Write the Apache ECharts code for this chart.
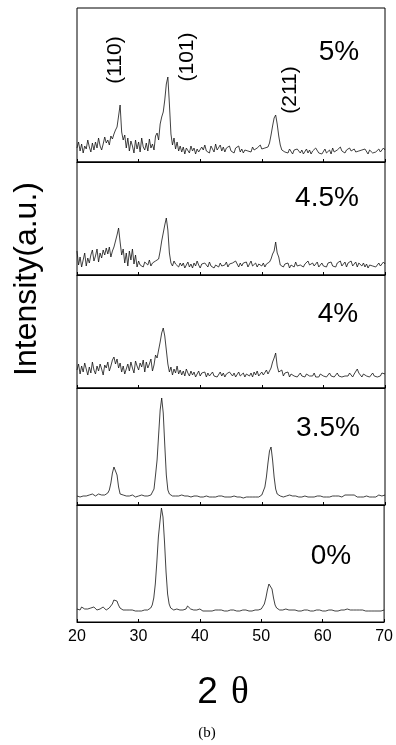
<!DOCTYPE html>
<html><head><meta charset="utf-8">
<script src="https://cdn.jsdelivr.net/npm/echarts@6/dist/echarts.min.js"></script>
<style>html,body{margin:0;padding:0;background:#fff}#c{width:396px;height:745px}</style>
</head><body><div id="c"></div>
<script>
// 2-theta sampling angles (degrees)
const twoTheta = [20,20.25,20.5,20.75,21,21.25,21.5,21.75,22,22.25,22.5,22.75,23,23.25,23.5,23.75,24,24.25,24.5,24.75,
25,25.25,25.5,25.75,26,26.25,26.5,26.75,27,27.25,27.5,27.75,28,28.25,28.5,28.75,29,29.25,29.5,29.75,
30,30.25,30.5,30.75,31,31.25,31.5,31.75,32,32.25,32.5,32.75,33,33.25,33.5,33.75,34,34.25,34.5,34.75,
35,35.25,35.5,35.75,36,36.25,36.5,36.75,37,37.25,37.5,37.75,38,38.25,38.5,38.75,39,39.25,39.5,39.75,
40,40.25,40.5,40.75,41,41.25,41.5,41.75,42,42.25,42.5,42.75,43,43.25,43.5,43.75,44,44.25,44.5,44.75,
45,45.25,45.5,45.75,46,46.25,46.5,46.75,47,47.25,47.5,47.75,48,48.25,48.5,48.75,49,49.25,49.5,49.75,
50,50.25,50.5,50.75,51,51.25,51.5,51.75,52,52.25,52.5,52.75,53,53.25,53.5,53.75,54,54.25,54.5,54.75,
55,55.25,55.5,55.75,56,56.25,56.5,56.75,57,57.25,57.5,57.75,58,58.25,58.5,58.75,59,59.25,59.5,59.75,
60,60.25,60.5,60.75,61,61.25,61.5,61.75,62,62.25,62.5,62.75,63,63.25,63.5,63.75,64,64.25,64.5,64.75,
65,65.25,65.5,65.75,66,66.25,66.5,66.75,67,67.25,67.5,67.75,68,68.25,68.5,68.75,69,69.25,69.5,69.75,70];

const int5 = [14,20,11,18, 9,16,13,22, 15,10,19,12, 20,14,24,16, 12,18,25,19,
22,17,26,23, 28,32,35,37, 57,30,22,27, 14,24,11,21, 16,9,22,13,
20,10,24,15, 12,19,11,23, 14,18,12,26, 29,22,38,45, 50,62,78,85,
58,28,17,24, 13,20,11,16, 10,15,8,14, 12,9,16,11, 14,8,13,10,
9,15,12,17, 11,13,9,16, 14,10,18,12, 13,17,11,15, 10,14,12,16,
11,13,9,14, 12,16,10,13, 9,12,14,11, 13,10,15,12, 11,14,12,17,
13,11,14,16, 15,19,27,36, 44,47,38,26, 17,12,14,10, 12,9,13,11,
8,12,10,13, 11,9,12,8, 10,13,9,12, 8,11,10,14, 12,9,11,8,
10,13,9,11, 12,8,14,10, 9,12,10,15, 11,13,9,12, 10,14,11,9,
13,10,12,11, 9,12,10,13, 11,8,12,10, 9,11,10,12, 13,10,9,14, 12];

const int45 = [24,10,18,8, 15,22,9,17, 12,20,25,14, 19,26,13,22, 17,25,20,27,
21,28,18,24, 28,34,40,47, 33,20,26,12, 22,9,24,15, 26,11,20,8,
14,10,12,8, 13,11,10,15, 9,12,10,14, 12,16,24,34, 42,50,57,45,
22,12,9,14, 11,13,8,12, 9,12,7,10, 13,8,11,7, 12,9,14,10,
7,11,9,12, 10,8,13,9, 11,7,10,12, 8,12,9,11, 10,13,8,11,
9,12,10,14, 11,8,12,9, 12,10,13,8, 10,14,9,11, 12,8,11,10,
9,12,8,11, 10,13,16,21, 24,33,22,18, 10,12,8,11, 9,12,7,10,
11,8,13,9, 7,10,12,8, 11,9,14,10, 8,12,9,11, 13,8,10,12,
9,11,8,12, 10,13,9,11, 8,12,10,14, 9,11,13,8, 12,10,14,9,
11,13,8,12, 10,9,12,8, 11,7,10,12, 9,11,8,10, 12,9,11,13, 11];

const int4 = [18,24,14,22, 16,25,19,13, 21,15,26,18, 14,22,17,24, 19,13,23,20,
26,17,22,28, 31,24,29,20, 25,16,22,14, 19,24,17,26, 20,15,27,22,
18,25,21,28, 16,26,20,24, 29,17,23,33, 30,38,46,55, 60,52,38,24,
16,21,13,19, 15,22,14,18, 13,17,12,19, 15,12,17,13, 16,11,14,17,
12,15,13,16, 11,15,12,14, 16,12,14,11, 13,16,12,15, 11,14,13,16,
14,12,15,11, 13,16,12,14, 15,11,14,13, 12,15,11,16, 13,17,12,14,
16,13,15,18, 14,17,20,26, 30,35,22,16, 14,18,12,15, 13,16,11,14,
15,12,14,11, 13,15,12,14, 11,14,13,12, 14,12,15,11, 13,11,14,12,
12,14,11,13, 15,12,13,11, 13,15,12,14, 11,13,12,14, 12,15,13,11,
14,16,19,15, 13,11,14,12, 12,14,11,13, 15,12,14,11, 13,12,15,13, 14];

const int35 = [9,10,8,10, 9,11,9,10, 10,9,11,10, 9,10,11,9, 10,11,10,12,
12,15,22,32, 38,40,30,18, 11,9,10,8, 9,10,9,8, 10,9,8,10,
9,8,10,9, 9,10,9,11, 10,12,16,30, 45,70,95,107, 92,60,30,15,
11,10,9,10, 9,10,9,9, 10,9,9,8, 9,10,8,9, 9,8,9,9,
8,9,8,9, 9,8,8,9, 8,9,8,8, 9,8,9,8, 8,9,8,7,
8,8,9,8, 8,7,8,8, 7,8,8,7, 8,7,8,9, 8,9,8,9,
10,12,18,28, 42,54,58,45, 28,16,11,9, 9,10,8,9, 9,8,10,9,
9,8,9,8, 8,9,8,9, 9,8,8,9, 8,9,8,8, 9,8,9,8,
8,9,8,8, 8,9,9,8, 9,8,9,9, 8,9,10,9, 10,11,10,9,
10,9,8,9, 8,9,8,8, 9,8,8,9, 8,9,8,9, 10,9,9,11, 10];

const int0 = [13,14,12,15, 14,13,15,13, 12,14,13,15, 13,12,14,13, 14,15,13,12,
13,14,16,18, 22,24,21,17, 14,13,12,13, 12,13,12,11, 12,12,11,12,
11,12,11,12, 12,11,12,13, 14,17,24,38, 60,85,100,114, 105,80,50,28,
18,14,13,12, 12,13,11,12, 13,12,14,13, 16,14,13,12, 12,13,12,11,
13,12,11,12, 11,12,11,12, 11,12,12,11, 12,11,12,12, 11,12,11,12,
12,11,12,11, 11,12,11,12, 12,11,12,11, 11,12,11,12, 12,11,12,12,
13,15,18,24, 32,38,40,33, 24,17,14,13, 12,13,12,12, 13,11,12,11,
12,11,12,11, 11,12,11,12, 12,11,12,11, 11,12,11,12, 12,11,12,11,
11,12,11,12, 12,11,12,11, 11,12,11,12, 12,11,12,12, 13,12,12,11,
12,13,12,11, 12,11,12,11, 11,12,11,12, 11,12,11,12, 11,12,11,12, 12];

const sampleLabels = ['5%','4.5%','4%','3.5%','0%'];
const xTicks = [20,30,40,50,60,70];
const peakLabels = ['(110)','(101)','(211)'];

const seriesValues = [int5,int45,int4,int35,int0];
const panelTops = [8,162,275,388,505];
const panelHeights = [154,113,113,117,117];
const L = 77, R = 11;

const chart = echarts.init(document.getElementById('c'), null, {renderer:'canvas'});
const grids=[], xAxes=[], yAxes=[], series=[];
seriesValues.forEach((vals,i)=>{
  grids.push({left:L, right:R, top:panelTops[i], height:panelHeights[i], show:true, borderColor:'#000', borderWidth:1, backgroundColor:'transparent'});
  xAxes.push({type:'value', gridIndex:i, min:xTicks[0], max:xTicks[xTicks.length-1], interval:10,
    axisLine:{show:true, lineStyle:{color:'#000', width:1}},
    axisTick:{show:true, inside:true, length:3, lineStyle:{color:'#000'}},
    minorTick:{show:false},
    axisLabel:{show:i===4, color:'#000', fontSize:16, fontFamily:'Liberation Sans, Arial, sans-serif', margin:7},
    splitLine:{show:false}});
  yAxes.push({type:'value', gridIndex:i, min:0, max:panelHeights[i], show:false, splitLine:{show:false}});
  series.push({type:'line', xAxisIndex:i, yAxisIndex:i, showSymbol:false, symbol:'none', silent:true,
    lineStyle:{color:'#111', width:0.8}, data: twoTheta.map((t,j)=>[t, vals[j]])});
});

const sansF = 'Liberation Sans, Arial, sans-serif';
const graphic = [];
const labelPos = [[339,52],[327,198],[338,314],[328,428],[331,556]];
sampleLabels.forEach((s,i)=>{
  graphic.push({type:'text', x:labelPos[i][0], y:labelPos[i][1], style:{text:s, fill:'#000', font:'28px '+sansF, textAlign:'center', textVerticalAlign:'middle'}});
});
const peakPos = [[115,60],[187,57],[290,90]];
peakLabels.forEach((s,i)=>{
  graphic.push({type:'text', x:peakPos[i][0], y:peakPos[i][1], rotation:Math.PI/2, style:{text:s, fill:'#000', font:'21px '+sansF, textAlign:'center', textVerticalAlign:'middle'}});
});
graphic.push({type:'text', x:27, y:279, rotation:Math.PI/2, style:{text:'Intensity(a.u.)', fill:'#000', font:'32px '+sansF, textAlign:'center', textVerticalAlign:'middle'}});
graphic.push({type:'text', x:223, y:693, style:{text:'{a|2}{b|θ}', fill:'#000', textAlign:'center', textVerticalAlign:'middle',
  rich:{a:{font:'37px '+sansF, fill:'#000', padding:[0,13,0,0]}, b:{font:'37px Liberation Serif, Times New Roman, serif', fill:'#000'}}}});
graphic.push({type:'text', x:207, y:733, style:{text:'(b)', fill:'#000', font:'15px Liberation Serif, Times New Roman, serif', textAlign:'center', textVerticalAlign:'middle'}});

chart.setOption({animation:false, backgroundColor:'#fff', grid:grids, xAxis:xAxes, yAxis:yAxes, series:series, graphic:graphic});
</script></body></html>
